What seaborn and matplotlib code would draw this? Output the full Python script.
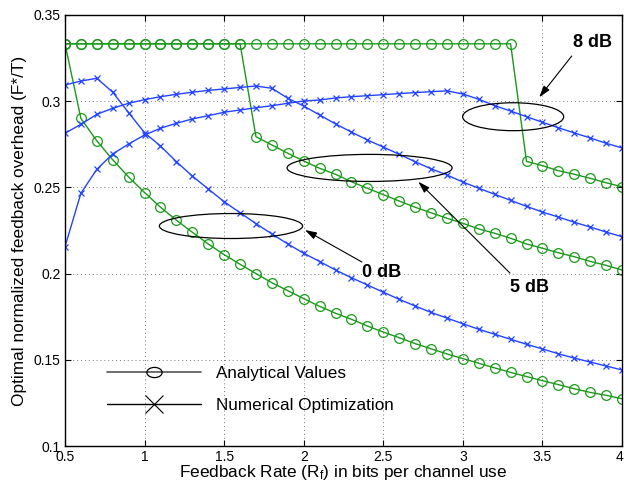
import numpy as np
import pandas as pd
import seaborn as sns
import matplotlib
matplotlib.use("Agg")
import matplotlib.pyplot as plt
import matplotlib.transforms as mtransforms
from matplotlib.lines import Line2D
from matplotlib.patches import Ellipse
from matplotlib.path import Path


"""Data read off the reference"""

Rate = np.round(np.linspace(0.5, 4.0, 36), 1)

Analytical_0dB = [0.3333, 0.290, 0.277, 0.266, 0.256, 0.247, 0.2385, 0.231, 0.224, 0.2172,
                  0.211, 0.2054, 0.200, 0.1947, 0.1901, 0.1855, 0.181, 0.177, 0.1735, 0.1696,
                  0.1661, 0.1628, 0.1594, 0.1564, 0.1534, 0.1507, 0.148, 0.1453, 0.1427, 0.1403,
                  0.1379, 0.1356, 0.1332, 0.1311, 0.1294, 0.1274]
Numerical_0dB = [0.3094, 0.3117, 0.3133, 0.3052, 0.2933, 0.2817, 0.274, 0.2649, 0.2566, 0.2491,
                 0.2417, 0.2353, 0.229, 0.223, 0.2172, 0.2118, 0.207, 0.2021, 0.1976, 0.1934,
                 0.1892, 0.1851, 0.1812, 0.1775, 0.1742, 0.1709, 0.1677, 0.1648, 0.1619, 0.159,
                 0.1563, 0.1535, 0.151, 0.1487, 0.1464, 0.1441]
Analytical_5dB = [0.3333] * 12 + [0.2794, 0.2746, 0.2698, 0.2653, 0.2611, 0.2576, 0.2533, 0.2495,
                                  0.2458, 0.2421, 0.2385, 0.2353, 0.2321, 0.2292, 0.2259, 0.2234,
                                  0.2205, 0.2172, 0.2147, 0.2121, 0.2098, 0.2071, 0.2048, 0.2021]
Numerical_5dB = [0.2814, 0.2866, 0.2924, 0.2959, 0.2988, 0.3009, 0.3026, 0.304, 0.3052, 0.3063,
                 0.3071, 0.3080, 0.3088, 0.3075, 0.3017, 0.2972, 0.292, 0.2868, 0.2821, 0.2775,
                 0.2734, 0.2692, 0.2649, 0.2608, 0.2572, 0.2531, 0.2495, 0.246, 0.2425, 0.239,
                 0.2357, 0.2328, 0.2298, 0.227, 0.2241, 0.2214]
Analytical_8dB = [0.3333] * 29 + [0.2651, 0.2626, 0.2597, 0.2576, 0.2553, 0.2527, 0.2504]
Numerical_8dB = [0.2156, 0.2466, 0.2605, 0.2694, 0.2752, 0.2804, 0.2843, 0.2872, 0.2897, 0.2916,
                 0.2936, 0.2949, 0.2962, 0.2974, 0.2988, 0.3001, 0.3007, 0.3019, 0.3026, 0.3032,
                 0.3038, 0.3044, 0.305, 0.3055, 0.306, 0.3042, 0.3011, 0.2974, 0.2943, 0.291,
                 0.2878, 0.2846, 0.2816, 0.2787, 0.2756, 0.2729]

X_Ticks = [0.5, 1, 1.5, 2, 2.5, 3, 3.5, 4]
X_Tick_Labels = ["0.5", "1", "1.5", "2", "2.5", "3", "3.5", "4"]
Y_Ticks = [0.1, 0.15, 0.2, 0.25, 0.3, 0.35]
Y_Tick_Labels = ["0.1", "0.15", "0.2", "0.25", "0.3", "0.35"]

Green = "#1a9a1a"
Blue = "#2244ff"


def Build_Frame():
    Frames = []
    for Name, Values in [("A0", Analytical_0dB), ("N0", Numerical_0dB), ("A5", Analytical_5dB),
                         ("N5", Numerical_5dB), ("A8", Analytical_8dB), ("N8", Numerical_8dB)]:
        Frames.append(pd.DataFrame({"rate": Rate, "overhead": Values, "curve": Name}))
    return pd.concat(Frames, ignore_index=True)


"""Plot"""
sns.set_style("ticks")
plt.rcParams['font.family'] = ['Liberation Sans', 'DejaVu Sans']
plt.rcParams['mathtext.fontset'] = 'custom'
plt.rcParams['mathtext.rm'] = 'Liberation Sans'
plt.rcParams['mathtext.it'] = 'Liberation Sans'
plt.rcParams['text.color'] = 'black'
plt.rcParams['axes.labelcolor'] = 'black'
plt.rcParams['xtick.color'] = 'black'
plt.rcParams['ytick.color'] = 'black'

Data = Build_Frame()
fig = plt.figure(figsize=(6.24, 4.82), dpi=100)
ax = fig.add_axes([65 / 624, 36 / 482, 557 / 624, 431 / 482])

for Curve in ["A0", "A5", "A8", "N0", "N5", "N8"]:
    Sub = Data[Data["curve"] == Curve]
    if Curve.startswith("A"):
        sns.lineplot(data=Sub, x="rate", y="overhead", ax=ax, color=Green, lw=1.0,
                     marker="o", markersize=7, mfc="none", mec=Green, mew=0.9,
                     estimator=None, legend=False)
    else:
        sns.lineplot(data=Sub, x="rate", y="overhead", ax=ax, color=Blue, lw=1.0,
                     marker="x", markersize=5, mec=Blue, mew=0.9,
                     estimator=None, legend=False)

ax.set_xlim(0.5, 4)
ax.set_ylim(0.1, 0.35)
ax.set_xticks(X_Ticks)
ax.set_xticklabels(X_Tick_Labels)
ax.set_yticks(Y_Ticks)
ax.set_yticklabels(Y_Tick_Labels)
ax.tick_params(direction="in", length=4, width=0.8, top=True, right=True, labelsize=10,
               colors="black", pad=3)
# keep the last x tick label inside the figure
Last_Label = ax.get_xticklabels()[-1]
Last_Label.set_transform(Last_Label.get_transform() +
                         mtransforms.ScaledTranslation(-3 / 100, 0, fig.dpi_scale_trans))
ax.grid(True, linestyle=(0, (1, 3)), color="#777777", linewidth=0.7)
for Spine in ax.spines.values():
    Spine.set_visible(True)
    Spine.set_color("black")
    Spine.set_linewidth(1.0)
ax.set_xlabel("Feedback Rate (R$_f$) in bits per channel use", fontsize=12.4, labelpad=-0.5)
ax.set_ylabel("Optimal normalized feedback overhead (F*/T)", fontsize=12.4, labelpad=5)

# ellipses, arrows and SNR labels
for Center, Width, Height in [((1.543, 0.2276), 0.90, 0.0145),
                              ((2.414, 0.2613), 1.037, 0.0157),
                              ((3.316, 0.2910), 0.635, 0.0162)]:
    ax.add_patch(Ellipse(Center, Width, Height, fill=False, edgecolor="black", lw=0.9, zorder=5))

Arrow_Props = dict(arrowstyle="-|>,head_length=0.7,head_width=0.22", color="black", lw=0.8,
                   shrinkA=0, shrinkB=0)
for Label, Head, Tail, Text_Pos in [("0 dB", (2.008, 0.2253), (2.366, 0.2067), (2.365, 0.2004)),
                                    ("5 dB", (2.720, 0.2533), (3.296, 0.2003), (3.296, 0.1922)),
                                    ("8 dB", (3.480, 0.3023), (3.684, 0.3262), (3.692, 0.3338))]:
    ax.annotate("", xy=Head, xytext=Tail, arrowprops=Arrow_Props, zorder=6)
    ax.text(Text_Pos[0], Text_Pos[1], Label, fontsize=13, fontweight="bold", ha="left",
            va="center", zorder=6)

Unit = Path.unit_circle()
Wide_Circle = Path(Unit.vertices * np.array([1.5, 1.0]), Unit.codes)
Handles = [Line2D([], [], color="#555555", lw=1.2, marker=Wide_Circle, markersize=11,
                  mfc="none", mec="black", mew=0.9),
           Line2D([], [], color="black", lw=1.0, marker="x", markersize=13, mec="black", mew=0.8)]
ax.legend(Handles, ["Analytical Values", "Numerical Optimization"], frameon=False, fontsize=12.3,
          handlelength=5.5, handletextpad=0.85, labelspacing=1.0,
          loc="upper left", bbox_to_anchor=(0.048, 0.222))

fig.savefig("out.png", dpi=100)
